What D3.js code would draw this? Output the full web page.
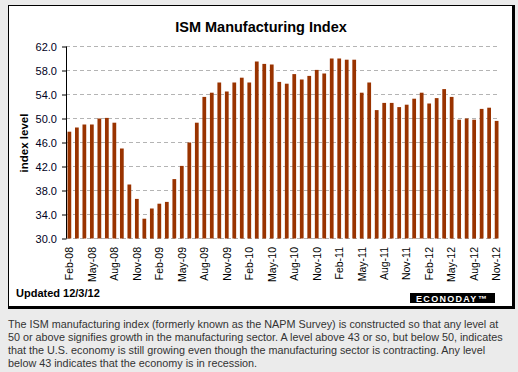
<html>
<head>
<meta charset="utf-8">
<style>
  body { margin: 0; background: #ebebeb; }
  svg { display: block; font-family: Arial, "Liberation Sans", sans-serif; }
</style>
</head>
<body>
<svg width="518" height="372" id="chart"></svg>
<script src="https://cdn.jsdelivr.net/npm/d3@7"></script>
<script>
// ISM index, monthly Feb-08 .. Nov-12
var values = [47.8, 48.5, 49.0, 49.0, 50.0, 50.1, 49.3, 45.0, 39.0, 36.6, 33.3, 35.0,
              35.8, 36.1, 39.9, 42.1, 46.0, 49.3, 53.6, 54.3, 56.0, 54.5, 56.0, 56.8,
              56.0, 59.5, 59.1, 59.0, 56.1, 55.8, 57.4, 56.5, 57.1, 58.1, 57.5, 60.0,
              60.0, 59.8, 59.8, 54.3, 56.0, 51.4, 52.6, 52.6, 51.9, 52.3, 53.3, 54.3,
              52.5, 53.4, 54.9, 53.6, 49.8, 50.0, 49.8, 51.6, 51.8, 49.6];
var months = d3.timeMonths(new Date(2008, 1, 1), new Date(2012, 11, 1)).map(d3.timeFormat("%b-%y"));
var yTicks = [30, 34, 38, 42, 46, 50, 54, 58, 62];
var noteLines = [
  "The ISM manufacturing index (formerly known as the NAPM Survey) is constructed so that any level at",
  "50 or above signifies growth in the manufacturing sector. A level above 43 or so, but below 50, indicates",
  "that the U.S. economy is still growing even though the manufacturing sector is contracting. Any level",
  "below 43 indicates that the economy is in recession."
];

var svg = d3.select("#chart");

// chart box
svg.append("rect").attr("x", 8.5).attr("y", 5.5).attr("width", 504).attr("height", 301)
  .style("fill", "#fff").style("stroke", "#000").style("stroke-width", 1);
svg.append("rect").attr("x", 512).attr("y", 5).attr("width", 3).attr("height", 304).style("fill", "#000");
svg.append("rect").attr("x", 8).attr("y", 306).attr("width", 507).attr("height", 3).style("fill", "#000");

var x = d3.scaleBand().domain(months).range([66, 500]).paddingInner(0.5).paddingOuter(0.2);
var y = d3.scaleLinear().domain([30, 62]).range([238.5, 46.5]);

// grid
svg.append("g").selectAll("line").data(yTicks).enter().append("line")
  .attr("x1", 66).attr("x2", 500)
  .attr("y1", function(d) { return y(d); }).attr("y2", function(d) { return y(d); })
  .style("stroke", "#b4b4b4").style("stroke-dasharray", "4,3");

// bars
svg.append("g").selectAll("rect").data(values).enter().append("rect")
  .attr("x", function(d, i) { return x(months[i]); })
  .attr("width", x.bandwidth())
  .attr("y", function(d) { return y(d); })
  .attr("height", function(d) { return y(30) - y(d); })
  .style("fill", "#993300");

// y axis
var yAxis = svg.append("g").attr("transform", "translate(66,0)")
  .call(d3.axisLeft(y).tickValues(yTicks).tickSize(4).tickPadding(5).tickFormat(d3.format(".1f")));
yAxis.select(".domain").attr("d", "M0.5," + y(62) + "V" + y(30)).style("stroke", "#000");
yAxis.selectAll("line").attr("x1", 0.5).attr("x2", -4);
yAxis.selectAll("text").style("font-size", "11px").style("fill", "#000022")
  .style("font-family", "Arial, 'Liberation Sans', sans-serif");

// x labels every 3rd month
svg.append("g").selectAll("text")
  .data(months.filter(function(m, i) { return i % 3 === 0; }))
  .enter().append("text")
  .attr("transform", function(d) {
    return "translate(" + (x(d) + x.bandwidth() / 2 + 3.8) + ",247) rotate(-90)";
  })
  .attr("text-anchor", "end")
  .style("font-size", "10.5px").style("fill", "#000")
  .text(function(d) { return d; });

// titles
svg.append("text").attr("x", 261).attr("y", 32).attr("text-anchor", "middle")
  .style("font-size", "14.5px").style("font-weight", "bold").style("fill", "#000")
  .text("ISM Manufacturing Index");
svg.append("text").attr("transform", "translate(28,143) rotate(-90)").attr("text-anchor", "middle")
  .style("font-size", "11.5px").style("font-weight", "bold").style("fill", "#000")
  .text("index level");
svg.append("text").attr("x", 16).attr("y", 297)
  .style("font-size", "11px").style("font-weight", "bold").style("fill", "#000")
  .text("Updated 12/3/12");

// logo
svg.append("rect").attr("x", 410).attr("y", 293).attr("width", 85).attr("height", 10).style("fill", "#000");
svg.append("text").attr("x", 452).attr("y", 301.5).attr("text-anchor", "middle")
  .style("font-size", "9px").style("font-weight", "bold").style("fill", "#fff").style("letter-spacing", "1.3px")
  .text("ECONODAY\u2122");

// note below the chart
svg.append("g").selectAll("text").data(noteLines).enter().append("text")
  .attr("x", 8).attr("y", function(d, i) { return 327.5 + i * 13.2; })
  .style("font-size", "10.8px").style("fill", "#333")
  .text(function(d) { return d; });
</script>
</body>
</html>
